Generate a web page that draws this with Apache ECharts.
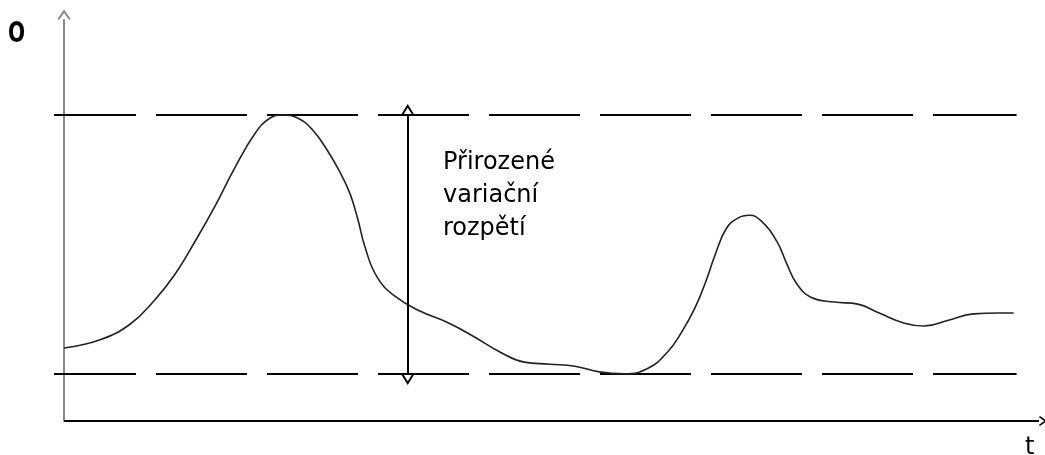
<!DOCTYPE html>
<html>
<head>
<meta charset="utf-8">
<script src="https://cdn.jsdelivr.net/npm/echarts@6/dist/echarts.min.js"></script>
<style>
  html, body { margin: 0; padding: 0; background: #fff; }
  #main { width: 1045px; height: 455px; }
</style>
</head>
<body>
<div id="main"></div>
<script>
// prubeh procesu (cas t, hodnota O)
const timeValues = [0, 3.7, 6.8, 9.3, 11.4, 13.4, 15.5, 17.5, 19.6, 21.1, 22.4, 24.0, 25.5, 27.0, 28.3, 29.3, 30.1, 30.9, 32.1, 33.9,
  36.5, 39.5, 42.1, 44.7, 47.2, 49.8, 52.4, 54.9, 57.5, 60.0, 61.9, 63.3, 64.7, 65.8, 66.8, 67.9, 69.1, 70.3, 71.5, 73.1,
  74.1, 75.1, 76.6, 79.0, 81.4, 83.6, 86.2, 88.2, 90.8, 93.3, 95.9, 97.4];
const processValues = [18.0, 20.0, 23.9, 29.8, 36.2, 44.1, 53.0, 62.3, 70.9, 74.6, 75.4, 74.6, 71.7, 66.7, 61.3, 56.2, 50.0, 42.6, 35.5, 30.8,
  27.1, 24.1, 20.7, 17.0, 14.5, 14.0, 13.5, 12.1, 11.6, 13.1, 17.0, 21.7, 27.8, 34.2, 41.1, 47.3, 50.0, 50.7, 49.3, 44.3,
  38.9, 34.0, 30.5, 29.3, 28.8, 26.6, 24.1, 23.4, 24.9, 26.4, 26.6, 26.6];

// meze prirozeneho variacniho rozpeti
const upperLimit = 75.4;
const lowerLimit = 11.6;
const limitFrom = -1.03;
const limitTo = 97.7;
const rangeArrowAt = 35.25;

const rangeText = ['Přirozené', 'variační', 'rozpětí'];
const yName = 'O';
const xName = 't';

// otevrena sipka, spicka je ve stredu symbolu
const chevron = 'path://M0,0 L6,8.5 L4.6,9.6 L0,3.2 L-4.6,9.6 L-6,8.5 Z M0,19.2 L0.01,19.2 L0,19.21 Z';

const curve = timeValues.map((t, i) => [t, processValues[i]]);

const chart = echarts.init(document.getElementById('main'), null, { renderer: 'canvas' });

const dashed = { color: '#000', width: 2, type: [91, 20], dashOffset: 9 };

const option = {
  animation: false,
  backgroundColor: '#fff',
  grid: { left: 54, right: 6, top: 20, bottom: 34 },
  xAxis: {
    type: 'value', min: limitFrom, max: 100,
    axisLine: { show: false },
    axisTick: { show: false }, axisLabel: { show: false }, splitLine: { show: false }
  },
  yAxis: {
    type: 'value', min: 0, max: 98.8,
    axisLine: { show: true, onZero: true, lineStyle: { color: '#8a8a8a', width: 2 },
      symbol: ['none', chevron], symbolSize: [13, 22] },
    axisTick: { show: false }, axisLabel: { show: false }, splitLine: { show: false }
  },
  series: [
    {
      // osa t se sipkou, zacina az u osy O
      type: 'line', data: [], silent: true,
      markLine: {
        silent: true, animation: false,
        symbol: ['none', chevron], symbolSize: [10, 16],
        label: { show: false },
        lineStyle: { color: '#000', width: 2, type: 'solid' },
        data: [[{ coord: [0, 0] }, { coord: [100, 0] }]]
      }
    },
    {
      type: 'line', data: [[limitFrom, upperLimit], [limitTo, upperLimit]],
      symbol: 'none', silent: true, lineStyle: dashed
    },
    {
      type: 'line', data: [[limitFrom, lowerLimit], [limitTo, lowerLimit]],
      symbol: 'none', silent: true, lineStyle: dashed
    },
    {
      type: 'line', data: curve, symbol: 'none', smooth: 0.45, silent: true,
      lineStyle: { color: '#222', width: 1.6 },
      markLine: {
        silent: true, animation: false,
        symbol: [chevron, chevron], symbolSize: [12, 22],
        label: { show: false },
        lineStyle: { color: '#000', width: 2, type: 'solid' },
        data: [[{ coord: [rangeArrowAt, lowerLimit] }, { coord: [rangeArrowAt, upperLimit] }]]
      }
    }
  ],
  graphic: [
    { type: 'text', left: 443, top: 146,
      style: { text: rangeText.join('\n'), font: '24px "DejaVu Sans"', lineHeight: 33, fill: '#000' } },
    { type: 'text', left: 8, top: 21, scaleX: 0.72,
      style: { text: yName, font: 'bold 28px "DejaVu Sans"', fill: '#000' } },
    { type: 'text', left: 1025, top: 436,
      style: { text: xName, font: '24px "DejaVu Sans"', fill: '#000' } }
  ]
};

chart.setOption(option);
</script>
</body>
</html>
